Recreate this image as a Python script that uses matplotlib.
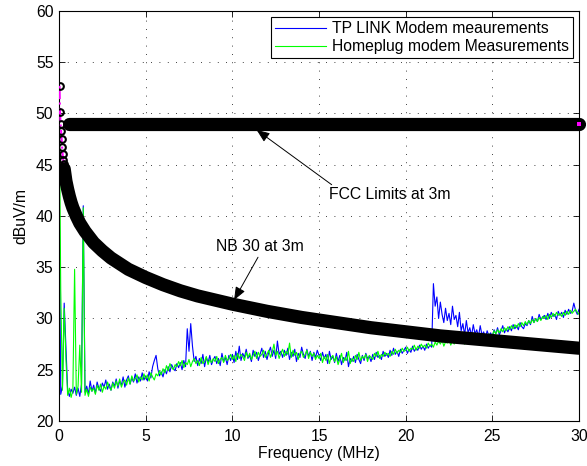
import numpy as np
import matplotlib
matplotlib.use("Agg")
import matplotlib.pyplot as plt

plt.rcParams['font.family'] = ['Liberation Sans', 'DejaVu Sans']

# measured spectra, 0 to 30 MHz in 0.1 MHz steps
freq = np.round(np.arange(0, 30.01, 0.1), 1)
tplink = [
    45.0, 22.6, 23.4, 31.5, 27.2, 23.0, 22.4, 23.1, 22.7, 23.3,
    22.5, 23.2, 22.4, 23.6, 41.0, 22.8, 23.4, 22.6, 23.9, 22.9,
    23.5, 22.7, 23.8, 23.2, 22.9, 23.7, 23.3, 24.0, 23.1, 23.6,
    23.0, 23.8, 23.4, 24.1, 23.2, 23.9, 23.5, 24.3, 23.3, 24.0,
    24.4, 23.6, 24.2, 23.8, 24.6, 23.7, 24.3, 23.9, 24.7, 24.0,
    24.4, 23.9, 24.8, 24.2, 25.3, 25.9, 26.4, 25.1, 24.4, 24.8,
    24.3, 25.0, 24.6, 25.3, 24.8, 25.5, 25.1, 24.9, 25.6, 25.2,
    25.7, 25.0, 25.9, 25.3, 29.0, 26.8, 29.5, 27.3, 25.8, 26.3,
    25.4, 26.1, 25.6, 26.5, 25.3, 26.2, 25.7, 26.4, 25.5, 26.0,
    26.3, 25.6, 26.1, 25.4, 26.6, 25.8, 26.2, 25.5, 26.4, 25.9,
    26.5, 25.7, 26.8, 26.0, 27.3, 25.9, 26.6, 26.2, 27.0, 26.1,
    26.4, 25.8, 26.9, 26.3, 26.7, 25.9, 26.5, 27.1, 26.2, 26.8,
    26.0, 26.7, 27.2, 26.3, 26.9, 26.1, 27.8, 26.5, 26.8, 26.2,
    26.9, 26.4, 27.1, 26.0, 26.7, 26.3, 27.0, 25.8, 26.6, 26.2,
    27.2, 26.5, 26.1, 27.0, 26.3, 26.8, 25.9, 26.7, 26.2, 26.9,
    26.4, 25.9, 26.7, 26.1, 26.5, 25.6, 26.8, 26.0, 26.3, 25.7,
    26.6, 25.8, 26.4, 25.5, 26.2, 25.9, 26.7, 25.3, 26.1, 25.8,
    26.3, 25.7, 26.5, 26.0, 25.6, 26.4, 25.9, 26.6, 26.1, 26.3,
    25.8, 26.5, 26.0, 26.7, 26.2, 26.4, 26.0, 26.8, 26.3, 26.6,
    26.2, 26.9, 26.4, 27.1, 26.5, 26.8, 26.3, 27.0, 26.6, 26.9,
    27.2, 26.6, 27.0, 26.7, 27.3, 26.8, 27.1, 26.9, 27.4, 27.0,
    27.3, 26.9, 27.5, 27.1, 27.4, 27.2, 33.4, 31.2, 32.1, 30.0,
    31.6, 30.4, 29.6, 31.0, 29.8, 30.5, 29.4, 31.2, 29.9, 30.3,
    29.2, 30.6, 28.8, 29.5, 28.4, 29.8, 28.6, 29.1, 28.3, 29.4,
    28.5, 28.9, 28.2, 29.3, 28.4, 28.7, 28.1, 28.8, 28.3, 28.6,
    28.2, 28.9, 28.5, 29.1, 28.4, 28.8, 29.3, 28.6, 29.0, 28.7,
    29.2, 28.8, 29.4, 29.0, 29.3, 28.9, 29.6, 29.2, 29.0, 29.5,
    29.3, 29.8, 29.4, 30.2, 29.6, 30.0, 29.7, 30.4, 29.9, 30.1,
    30.3, 29.9, 30.5, 30.0, 30.6, 30.2, 30.4, 29.9, 30.7, 30.3,
    30.6, 30.1, 30.8, 30.4, 30.9, 30.5, 30.7, 31.5, 30.8, 30.4,
    30.9]
homeplug = [
    55.0, 32.8, 23.0, 31.0, 26.0, 22.5, 23.2, 22.3, 23.0, 34.8,
    22.6, 23.4, 27.4, 22.8, 40.8, 22.5, 23.1, 22.4, 23.3, 22.9,
    23.2, 22.6, 23.5, 23.0, 23.6, 22.8, 23.4, 23.1, 23.8, 23.3,
    23.0, 23.7, 23.2, 23.9, 23.4, 24.1, 23.3, 23.8, 24.0, 23.5,
    24.2, 23.6, 24.4, 23.9, 24.1, 24.5, 23.8, 24.3, 24.0, 24.6,
    24.1, 24.5, 23.9, 24.7, 24.3, 24.0, 24.6, 24.4, 24.9, 24.5,
    25.1, 24.7, 25.4, 24.9, 25.6, 25.2, 25.0, 25.5, 25.3, 25.8,
    25.4, 25.9, 25.2, 25.7, 25.5, 26.0, 25.3, 25.8, 26.1, 25.6,
    25.9, 25.4, 26.2, 25.6, 25.8, 26.3, 25.5, 26.0, 25.7, 26.1,
    25.8, 26.3, 25.6, 26.0, 26.2, 25.7, 26.4, 25.9, 26.1, 26.5,
    26.0, 26.4, 25.8, 26.6, 26.1, 26.5, 26.3, 25.9, 26.7, 26.2,
    26.6, 26.0, 26.4, 26.8, 26.1, 26.7, 26.3, 26.5, 26.9, 26.2,
    26.5, 26.9, 26.2, 26.7, 27.5, 26.4, 26.8, 26.1, 26.6, 27.0,
    26.3, 26.8, 26.5, 27.6, 26.2, 26.9, 26.4, 26.7, 26.0, 26.6,
    26.8, 26.2, 26.5, 26.9, 26.1, 26.7, 26.3, 26.6, 26.0, 26.4,
    26.1, 26.6, 25.7, 26.3, 25.9, 26.5, 25.6, 26.2, 26.4, 25.8,
    26.3, 25.5, 26.0, 26.6, 25.7, 26.2, 25.9, 26.8, 25.6, 26.1,
    25.8, 26.4, 26.0, 26.7, 25.9, 26.3, 26.1, 26.5, 25.8, 26.4,
    26.2, 26.0, 26.6, 26.3, 26.8, 26.1, 26.5, 26.3, 26.7, 26.4,
    26.6, 26.3, 26.8, 26.5, 27.0, 26.6, 26.9, 26.7, 27.1, 26.8,
    26.9, 27.2, 26.8, 27.1, 27.0, 27.4, 26.9, 27.3, 27.1, 27.5,
    27.2, 27.4, 27.1, 27.6, 27.3, 27.5, 27.2, 27.7, 27.4, 27.8,
    27.5, 27.9, 27.3, 27.7, 27.6, 28.0, 27.4, 27.8, 27.5, 27.9,
    27.6, 28.0, 27.7, 28.1, 27.5, 27.9, 28.2, 27.8, 28.0, 27.7,
    28.1, 27.8, 28.3, 28.0, 28.2, 27.9, 28.4, 28.1, 28.5, 28.2,
    28.4, 28.8, 28.5, 28.9, 28.6, 29.0, 28.7, 29.1, 28.8, 29.2,
    28.9, 29.3, 29.0, 29.4, 29.1, 29.5, 29.2, 29.6, 29.3, 29.7,
    29.4, 29.8, 29.5, 29.9, 29.6, 30.0, 29.7, 30.1, 29.8, 30.2,
    30.0, 30.3, 29.9, 30.4, 30.1, 30.5, 30.2, 30.6, 30.3, 30.5,
    30.2, 30.6, 30.3, 30.7, 30.4, 30.8, 30.5, 30.7, 30.9, 30.6,
    30.4]

# NB 30 limit: separate rings at the lowest frequencies, then the band
nb30_ring_f = [0.03, 0.06, 0.09, 0.12, 0.15, 0.18, 0.21, 0.24, 0.27, 0.3]
nb30_ring_v = [52.7, 50.1, 49.0, 48.3, 47.5, 46.7, 46.0, 45.5, 45.1, 44.7]
nb30_f = [0.3, 0.4, 0.5, 0.6, 0.7, 0.8, 1.0, 1.2, 1.5, 2.0, 2.5, 3.0, 4.0, 5.0,
          6.0, 7.0, 8.0, 9.0, 10, 12, 14, 16, 18, 20, 22, 24, 26, 28, 30]
nb30_v = [44.6, 43.4, 42.6, 41.9, 41.3, 40.8, 40.0, 39.3, 38.5, 37.4, 36.6, 35.9,
          34.8, 34.0, 33.3, 32.7, 32.2, 31.8, 31.4, 30.7, 30.1, 29.6, 29.1, 28.7,
          28.3, 28.0, 27.7, 27.4, 27.1]
# FCC limit
fcc_f = [0.6, 30]
fcc_v = [49, 49]

FS = 11.3

fig = plt.figure(figsize=(5.87, 4.66), dpi=100)
ax = fig.add_axes([0.1005, 0.0966, 0.8859, 0.8798])

ax.plot(freq, tplink, color='#0000ff', lw=0.8, label='TP LINK Modem meaurements')
ax.plot(freq, homeplug, color='#00ff00', lw=0.8, label='Homeplug modem Measurements')

ax.plot(nb30_ring_f + nb30_f[1:], nb30_ring_v + nb30_v[1:], color='magenta',
        ls='-.', lw=1.5, zorder=3)
ax.plot(nb30_f, nb30_v, color='black', lw=9.5, solid_capstyle='round', zorder=4)
ax.plot(nb30_ring_f, nb30_ring_v, ls='none', marker='o', ms=4.8, mew=1.5,
        mec='black', mfc='none', zorder=5)

ax.plot(fcc_f, fcc_v, color='black', lw=9.5, solid_capstyle='round', zorder=4, clip_on=False)
ax.plot(fcc_f[-1:], fcc_v[-1:], ls='none', marker='s', ms=2.2, mew=0, mfc='magenta',
        zorder=6, clip_on=False)

ax.annotate('FCC Limits at 3m', xy=(11.4, 48.4), xytext=(15.6, 42.05),
            fontsize=FS, va='center', ha='left',
            arrowprops=dict(arrowstyle='-|>,head_length=0.7,head_width=0.28',
                            color='black', lw=0.7, shrinkA=0, shrinkB=0,
                            relpos=(0.05, 1.0)))
ax.annotate('NB 30 at 3m', xy=(10.1, 31.8), xytext=(9.04, 36.98),
            fontsize=FS, va='center', ha='left',
            arrowprops=dict(arrowstyle='-|>,head_length=0.7,head_width=0.28',
                            color='black', lw=0.7, shrinkA=0, shrinkB=0,
                            relpos=(0.5, 0.0)))

ax.set_xlim(0, 30)
ax.set_ylim(20, 60)
ax.set_xticks([0, 5, 10, 15, 20, 25, 30])
ax.set_yticks([20, 25, 30, 35, 40, 45, 50, 55, 60])
ax.tick_params(direction='in', top=True, right=True, labelsize=FS, length=4, width=0.6)
ax.tick_params(axis='x', pad=6)
ax.tick_params(axis='y', pad=4)
ax.grid(True, color='black', ls=(0, (1, 9)), lw=0.6)
for s in ax.spines.values():
    s.set_linewidth(0.8)
ax.set_xlabel('Frequency (MHz)', fontsize=FS, labelpad=1)
ax.set_ylabel('dBuV/m', fontsize=FS, labelpad=5)

leg = ax.legend(loc='upper right', fontsize=FS, fancybox=False, edgecolor='black',
                framealpha=1, handlelength=3.2, borderaxespad=0.4,
                borderpad=0.25, labelspacing=0.2, handletextpad=0.4)
leg.get_frame().set_linewidth(0.8)

fig.savefig('out.png', dpi=100)
